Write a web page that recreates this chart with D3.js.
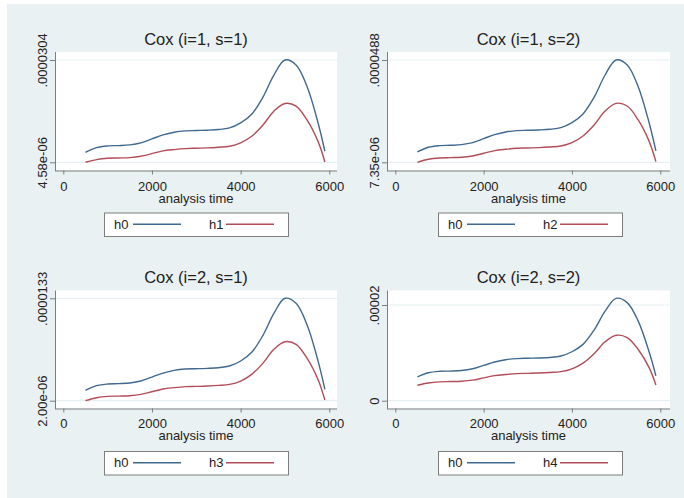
<!DOCTYPE html>
<html>
<head>
<meta charset="utf-8">
<script src="https://cdn.jsdelivr.net/npm/d3@7"></script>
<style>
  body { margin: 0; background: #fff; }
  svg { display: block; }
  text { font-family: "Liberation Sans", Arial, sans-serif; fill: #222; }
</style>
</head>
<body>
<script>
// analysis time grid the smoothed hazards are read at
const times = [500, 750, 1000, 1250, 1500, 1750, 2000, 2250, 2500, 2750, 3000, 3250,
               3500, 3750, 4000, 4250, 4500, 4750, 5000, 5250, 5500, 5750, 5900];

// hazards, in units of 1e-06
const h0_i1s1 = [7.11, 8.30, 8.72, 8.80, 8.97, 9.48, 10.49, 11.50, 12.18, 12.51, 12.60, 12.68,
                 12.85, 13.27, 14.54, 16.73, 20.95, 26.60, 30.40, 29.13, 23.65, 14.37, 7.37];
const h1_i1s1 = [4.58, 5.26, 5.60, 5.68, 5.77, 6.10, 6.78, 7.45, 7.79, 8.04, 8.13, 8.21,
                 8.38, 8.63, 9.48, 11.16, 13.95, 17.49, 19.43, 18.76, 15.21, 9.73, 4.67];
const h0_i1s2 = [11.53, 13.43, 14.10, 14.24, 14.50, 15.31, 16.93, 18.55, 19.64, 20.17, 20.31, 20.45,
                 20.72, 21.39, 23.41, 26.93, 33.68, 42.72, 48.80, 46.77, 38.00, 23.15, 11.94];
const h2_i1s2 = [7.35, 8.57, 9.10, 9.24, 9.38, 9.91, 11.00, 12.07, 12.62, 13.02, 13.15, 13.29,
                 13.56, 13.96, 15.31, 18.02, 22.47, 28.14, 31.25, 30.17, 24.50, 15.72, 7.62];
const h0_i2s1 = [3.14, 3.66, 3.84, 3.88, 3.95, 4.17, 4.61, 5.05, 5.35, 5.50, 5.53, 5.57,
                 5.64, 5.83, 6.38, 7.34, 9.18, 11.64, 13.30, 12.75, 10.35, 6.31, 3.25];
const h3_i2s1 = [2.00, 2.33, 2.48, 2.51, 2.55, 2.70, 2.99, 3.29, 3.44, 3.55, 3.58, 3.62,
                 3.69, 3.80, 4.17, 4.91, 6.12, 7.67, 8.51, 8.22, 6.67, 4.28, 2.07];
const h0_i2s2 = [5.00, 5.84, 6.14, 6.19, 6.31, 6.67, 7.38, 8.09, 8.57, 8.80, 8.87, 8.92,
                 9.04, 9.34, 10.23, 11.77, 14.74, 18.72, 21.39, 20.50, 16.64, 10.11, 5.19];
const h4_i2s2 = [3.22, 3.70, 3.94, 4.00, 4.06, 4.29, 4.77, 5.24, 5.48, 5.66, 5.72, 5.78,
                 5.90, 6.07, 6.67, 7.85, 9.82, 12.31, 13.67, 13.20, 10.70, 6.85, 3.29];

const titles = ["Cox (i=1, s=1)", "Cox (i=1, s=2)", "Cox (i=2, s=1)", "Cox (i=2, s=2)"];
const otherNames = ["h1", "h2", "h3", "h4"];
const xTicks = [0, 2000, 4000, 6000];
const yTickValues = [[4.58, 30.4], [7.35, 48.8], [2.00, 13.3], [0, 20]];
const yTickLabels = [["4.58e-06", ".0000304"], ["7.35e-06", ".0000488"],
                     ["2.00e-06", ".0000133"], ["0", ".00002"]];

const W = 684, H = 498;
const BLUE = "#41688f", RED = "#b24d57";

// geometry of the four graphs (left/right column, top/bottom row)
const cols = [
  { left: 55, right: 337, x0: 63.3, x1: 329.3, ylab: 46.5, box: 104 },
  { left: 387, right: 670, x0: 395.3, x1: 660.3, ylab: 378.5, box: 438 }
];
const rows = [
  { top: 52, bottom: 170.5, title: 45, tick: 190.5, axTitle: 202.5, legTop: 212.5, legBot: 236 },
  { top: 290.5, bottom: 408.5, title: 283, tick: 427.5, axTitle: 440, legTop: 451, legBot: 474.5 }
];
const yTickPx = [[162.3, 60], [162.3, 60], [400.7, 298.3], [400.7, 305]];

const panels = [
  { h0: h0_i1s1, hk: h1_i1s1 },
  { h0: h0_i1s2, hk: h2_i1s2 },
  { h0: h0_i2s1, hk: h3_i2s1 },
  { h0: h0_i2s2, hk: h4_i2s2 }
];

const svg = d3.select("body").append("svg")
  .attr("width", W).attr("height", H);

svg.append("rect")
  .attr("x", 7).attr("y", 4)
  .attr("width", W - 7).attr("height", H - 4)
  .attr("fill", "#eaf1f3");

panels.forEach((p, i) => {
  const c = cols[i % 2], r = rows[Math.floor(i / 2)];
  const g = svg.append("g");

  const x = d3.scaleLinear().domain([0, 6000]).range([c.x0, c.x1]);
  const y = d3.scaleLinear().domain(yTickValues[i]).range(yTickPx[i]);

  // plot region
  g.append("rect")
    .attr("x", c.left).attr("y", r.top)
    .attr("width", c.right - c.left).attr("height", r.bottom - r.top)
    .attr("fill", "#fff");

  // grid lines at the labelled values
  g.selectAll("line.grid")
    .data(yTickValues[i])
    .enter().append("line")
      .attr("class", "grid")
      .attr("x1", c.left).attr("x2", c.right)
      .attr("y1", d => y(d)).attr("y2", d => y(d))
      .attr("stroke", "#e6eff1").attr("stroke-width", 1.2);

  // axes
  const xAxis = d3.axisBottom(x).tickValues(xTicks).tickSize(4).tickPadding(4)
    .tickFormat(d3.format("d"));
  const gx = g.append("g")
    .attr("transform", "translate(0," + r.bottom + ")")
    .call(xAxis);
  gx.select(".domain").attr("d", "M" + c.left + ",0.5H" + c.right);

  const yAxis = d3.axisLeft(y).tickValues(yTickValues[i]).tickSize(5)
    .tickFormat((d, k) => yTickLabels[i][k]);
  const gy = g.append("g")
    .attr("transform", "translate(" + c.left + ",0)")
    .call(yAxis);
  gy.select(".domain").attr("d", "M0.5," + r.top + "V" + (r.bottom + 0.5));

  [gx, gy].forEach(a => {
    a.selectAll(".domain, .tick line").attr("stroke", "#7d7d7d").attr("stroke-width", 1);
    a.selectAll("text").attr("font-size", 13).attr("fill", "#222")
      .style("font-family", '"Liberation Sans", Arial, sans-serif');
  });
  gx.selectAll(".tick text").attr("y", null).attr("dy", null)
    .attr("y", r.tick - r.bottom);
  gy.selectAll(".tick text")
    .attr("x", null).attr("dy", null)
    .attr("text-anchor", "middle")
    .attr("transform", "translate(" + (c.ylab - c.left) + ",0) rotate(-90)")
    .attr("y", 0);

  // curves
  const line = d3.line()
    .x((d, k) => x(times[k]))
    .y(d => y(d))
    .curve(d3.curveCatmullRom.alpha(0.5));

  g.append("path").datum(p.h0)
    .attr("d", line).attr("fill", "none")
    .attr("stroke", BLUE).attr("stroke-width", 1.4);
  g.append("path").datum(p.hk)
    .attr("d", line).attr("fill", "none")
    .attr("stroke", RED).attr("stroke-width", 1.4);

  // titles
  g.append("text")
    .attr("x", (c.left + c.right) / 2).attr("y", r.title)
    .attr("text-anchor", "middle").attr("font-size", 16.5)
    .text(titles[i]);
  g.append("text")
    .attr("x", (c.left + c.right) / 2).attr("y", r.axTitle)
    .attr("text-anchor", "middle").attr("font-size", 13)
    .text("analysis time");

  // legend
  const lg = g.append("g");
  lg.append("rect")
    .attr("x", c.box + 0.5).attr("y", r.legTop + 0.5)
    .attr("width", 184).attr("height", r.legBot - r.legTop)
    .attr("fill", "#fff").attr("stroke", "#7d7d7d");
  const keys = [
    { name: "h0", color: BLUE, tx: 10, l0: 29, l1: 77 },
    { name: otherNames[i], color: RED, tx: 105, l0: 122, l1: 170 }
  ];
  const ly = (r.legTop + r.legBot) / 2;
  lg.selectAll("text.key")
    .data(keys)
    .enter().append("text")
      .attr("class", "key")
      .attr("x", d => c.box + d.tx).attr("y", ly + 4.5)
      .attr("font-size", 13)
      .text(d => d.name);
  lg.selectAll("line.key")
    .data(keys)
    .enter().append("line")
      .attr("class", "key")
      .attr("x1", d => c.box + d.l0).attr("x2", d => c.box + d.l1)
      .attr("y1", ly).attr("y2", ly)
      .attr("stroke", d => d.color).attr("stroke-width", 1.4);
});
</script>
</body>
</html>
